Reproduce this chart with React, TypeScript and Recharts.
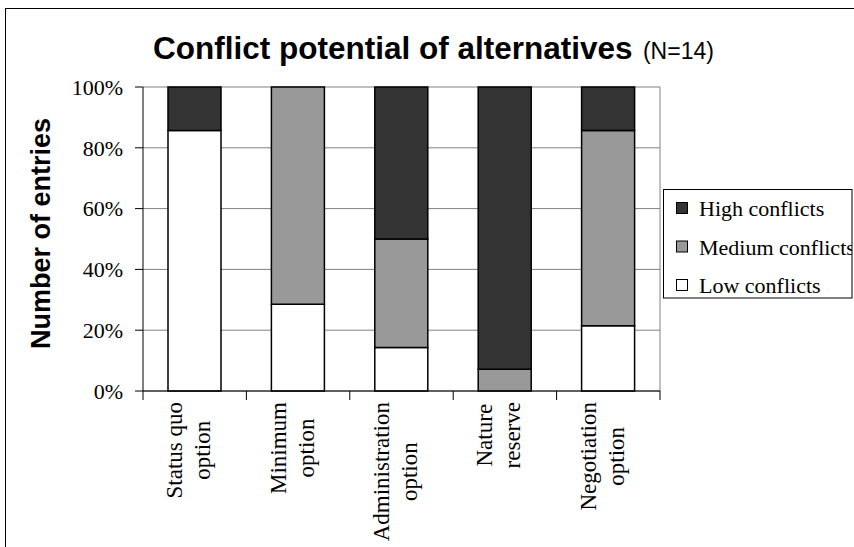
import React from "react";
import { BarChart, Bar, XAxis, YAxis, CartesianGrid } from "recharts";

// ---- data ----
const categoryLines: string[][] = [
  ["Status quo", "option"],
  ["Minimum", "option"],
  ["Administration", "option"],
  ["Nature", "reserve"],
  ["Negotiation", "option"],
];
const highConflicts = [2, 0, 7, 13, 2];
const mediumConflicts = [0, 10, 5, 1, 9];
const lowConflicts = [12, 4, 2, 0, 3];
const totalEntries = 14;
const yTicks = [0, 20, 40, 60, 80, 100];

const titleMain = "Conflict potential of alternatives";
const titleSub = "(N=14)";
const yAxisTitle = "Number of entries";

const seriesInfo = [
  { key: "high", name: "High conflicts", fill: "#333333" },
  { key: "medium", name: "Medium conflicts", fill: "#999999" },
  { key: "low", name: "Low conflicts", fill: "#ffffff" },
];

const data = categoryLines.map((lines, i) => ({
  name: lines.join(" "),
  low: (lowConflicts[i] / totalEntries) * 100,
  medium: (mediumConflicts[i] / totalEntries) * 100,
  high: (highConflicts[i] / totalEntries) * 100,
}));

const SERIF = "'Liberation Serif', 'Times New Roman', serif";
const SANS = "'Liberation Sans', Arial, sans-serif";
const LABEL_SIZE = 23;

let ctx: CanvasRenderingContext2D | null = null;
function measure(s: string, font: string, size: number): number {
  try {
    if (!ctx && typeof document !== "undefined") {
      ctx = document.createElement("canvas").getContext("2d");
    }
    if (ctx) {
      ctx.font = font;
      return ctx.measureText(s).width;
    }
  } catch (e) {}
  return s.length * size * 0.45;
}

function CategoryTick(props: any) {
  const { x, y, payload, width, visibleTicksCount, index } = props;
  const half = width / visibleTicksCount / 2;
  const lines =
    categoryLines.find((l) => l.join(" ") === payload.value) ||
    String(payload.value).split(" ");
  const font = `${LABEL_SIZE}px 'Liberation Serif'`;
  const maxW = Math.max(...lines.map((l) => measure(l, font, LABEL_SIZE)));
  const top = y + 11;
  const cy = top + maxW / 2;
  const n = lines.length;
  return (
    <g>
      <line x1={x - half} y1={y} x2={x - half} y2={y + 9} stroke="#000" strokeWidth={1} />
      {index === visibleTicksCount - 1 && (
        <line x1={x + half} y1={y} x2={x + half} y2={y + 9} stroke="#000" strokeWidth={1} />
      )}
      {lines.map((ln, i) => {
        const lx = x + 1.5 + (i - (n - 1) / 2) * 28;
        return (
          <text
            key={i}
            x={lx}
            y={cy}
            transform={`rotate(-90 ${lx} ${cy})`}
            textAnchor="middle"
            fontFamily={SERIF}
            fontSize={LABEL_SIZE}
            fill="#000"
          >
            {ln}
          </text>
        );
      })}
    </g>
  );
}

export default function App() {
  const legendTop = 189;
  const legendLeft = 663;
  const legendCenters = [208, 246.5, 285];
  return (
    <div
      style={{
        position: "absolute",
        left: 0,
        top: 0,
        width: 854,
        height: 547,
        background: "#fff",
        overflow: "hidden",
      }}
    >
      <BarChart
        width={854}
        height={547}
        data={data}
        margin={{ top: 87, right: 194, left: 0, bottom: 0 }}
        barSize={53}
      >
        <CartesianGrid
          stroke="#808080"
          vertical={true}
          horizontal={true}
          verticalCoordinatesGenerator={({ offset }: any) => [offset.left + offset.width]}
        />
        <XAxis
          dataKey="name"
          type="category"
          height={156}
          axisLine={{ stroke: "#000", strokeWidth: 1 }}
          tickLine={false}
          tickSize={0}
          tickMargin={0}
          interval={0}
          tick={<CategoryTick />}
        />
        <YAxis
          width={143}
          domain={[0, 100]}
          ticks={yTicks}
          interval={0}
          tickFormatter={(v: number) => `${v}%`}
          axisLine={{ stroke: "#000", strokeWidth: 1 }}
          tickLine={{ stroke: "#000", strokeWidth: 1 }}
          tickSize={8}
          tickMargin={12}
          tick={{ fontFamily: SERIF, fontSize: 22, fill: "#000" }}
        />
        <Bar dataKey="low" name="Low conflicts" stackId="a" fill="#ffffff" stroke="#000" strokeWidth={1.5} isAnimationActive={false} />
        <Bar dataKey="medium" name="Medium conflicts" stackId="a" fill="#999999" stroke="#000" strokeWidth={1.5} isAnimationActive={false} />
        <Bar dataKey="high" name="High conflicts" stackId="a" fill="#333333" stroke="#000" strokeWidth={1.5} isAnimationActive={false} />
      </BarChart>
      <svg
        width={854}
        height={547}
        style={{ position: "absolute", left: 0, top: 0, pointerEvents: "none" }}
      >
        <defs>
          <clipPath id="legendClip">
            <rect x={legendLeft} y={legendTop} width={189} height={109} />
          </clipPath>
        </defs>
        <rect x={5.5} y={8.5} width={900} height={600} fill="none" stroke="#000" strokeWidth={1} />
        <text x={153} y={59} fontFamily={SANS} fontWeight="bold" fontSize={31.5} fill="#000">
          {titleMain}
          <tspan fontWeight="normal" fontSize={23} dx={4}>
            {" " + titleSub}
          </tspan>
        </text>
        <text
          x={50}
          y={233.5}
          transform="rotate(-90 50 233.5)"
          textAnchor="middle"
          fontFamily={SANS}
          fontWeight="bold"
          fontSize={27}
          fill="#000"
        >
          {yAxisTitle}
        </text>
        <rect x={legendLeft + 0.5} y={legendTop + 0.5} width={188.5} height={108.5} fill="#fff" stroke="#000" strokeWidth={1} />
        <g clipPath="url(#legendClip)">
          {seriesInfo.map((s, i) => (
            <g key={s.key}>
              <rect
                x={676.5}
                y={legendCenters[i] - 5.5}
                width={11}
                height={11}
                fill={s.fill}
                stroke="#000"
                strokeWidth={1}
              />
              <text x={699} y={legendCenters[i] + 8} fontFamily={SERIF} fontSize={22} fill="#000">
                {s.name}
              </text>
            </g>
          ))}
        </g>
      </svg>
    </div>
  );
}
